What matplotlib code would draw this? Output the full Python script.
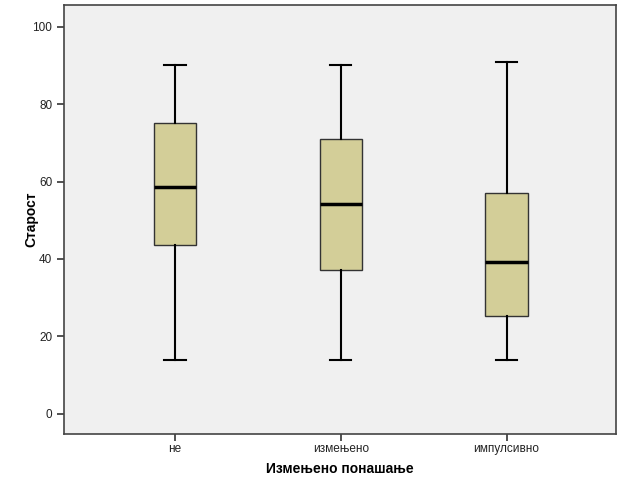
import numpy as np
import matplotlib.pyplot as plt

plt.rcParams['font.family'] = ['Liberation Sans', 'DejaVu Sans']

# quartile values
groups = ['не', 'измењено', 'импулсивно']
whislo = [14, 14, 14]
q1 = [43.6, 37.2, 25.2]
med = [58.6, 54.1, 39.2]
q3 = [75.1, 71.1, 57.1]
whishi = [90, 90, 91]

stats = []
for i in range(len(groups)):
    stats.append({'label': groups[i], 'whislo': whislo[i], 'q1': q1[i],
                  'med': med[i], 'q3': q3[i], 'whishi': whishi[i], 'fliers': []})

fig = plt.figure(figsize=(6.24, 4.94), dpi=100)
ax = fig.add_axes([0.1026, 0.1215, 0.8844, 0.8684])
ax.set_facecolor('#f0f0f0')

ax.bxp(stats, positions=[1, 2, 3], widths=0.255, patch_artist=True,
       showfliers=False,
       boxprops=dict(facecolor='#d3ce98', edgecolor='#333333', linewidth=1.0),
       medianprops=dict(color='black', linewidth=2.5),
       whiskerprops=dict(color='black', linewidth=1.5),
       capprops=dict(color='black', linewidth=1.5),
       capwidths=0.128)

ax.set_xlim(0.33, 3.66)
ax.set_ylim(-5.2, 105.6)
ax.set_yticks([0, 20, 40, 60, 80, 100])
ax.tick_params(axis='both', direction='out', length=5, width=1.2,
               color='#333333', labelsize=8.5, labelcolor='#222222')
ax.tick_params(axis='x', pad=1.5)

for s in ax.spines.values():
    s.set_color('#444444')
    s.set_linewidth(1.2)

ax.set_xlabel('Измењено понашање', fontsize=10, fontweight='bold')
ax.set_ylabel('Старост', fontsize=10, fontweight='bold')
ax.xaxis.set_label_coords(0.5, -0.065)
ax.yaxis.set_label_coords(-0.046, 0.5)

fig.savefig('out.png', dpi=100)
